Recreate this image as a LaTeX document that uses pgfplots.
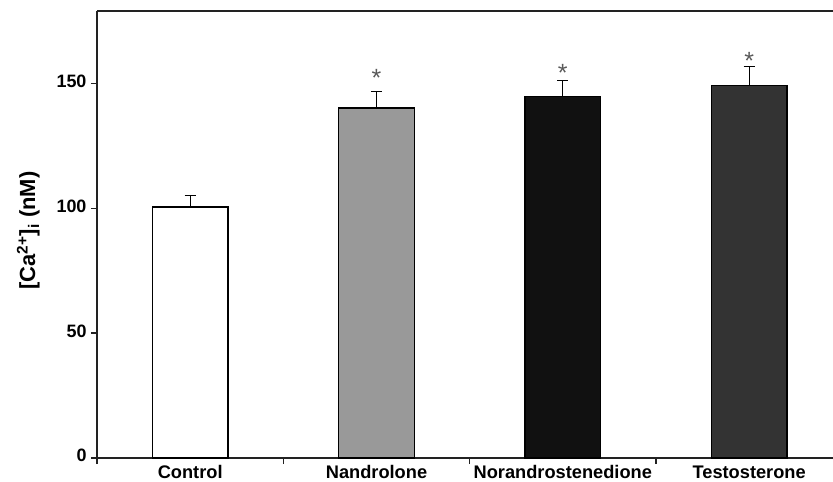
\documentclass[border=0pt]{standalone}
\usepackage{fontspec}
\setmainfont{Liberation Sans}
\usepackage{pgfplots}
\pgfplotsset{compat=1.18}
\definecolor{nandro}{HTML}{999999}
\definecolor{norandro}{HTML}{111111}
\definecolor{testo}{HTML}{333333}
\definecolor{axcol}{HTML}{222222}
\begin{document}
\begin{tikzpicture}
\begin{axis}[
  at={(0,0)}, anchor=south west,
  scale only axis, width=736bp, height=447bp,
  xmin=-0.5, xmax=3.45, ymin=0, ymax=179,
  axis lines=left,
  axis line style={-, line width=1.3bp, color=axcol},
  ytick={0,50,100,150},
  xtick={0,1,2,3},
  xticklabels={Control,Nandrolone,Norandrostenedione,Testosterone},
  minor xtick={-0.5,0.5,1.5,2.5},
  major x tick style={draw=none},
  tick align=outside,
  major tick length=6bp, minor tick length=6bp,
  tick style={line width=1.3bp, color=axcol},
  /pgf/number format/assume math mode=true,
  typeset ticklabels with strut,
  yticklabel style={font=\fontsize{18}{20}\selectfont\bfseries, xshift=-1bp},
  xticklabel style={font=\fontsize{18.3}{20}\selectfont\bfseries, yshift=3bp},
  ylabel={[Ca\textsuperscript{2+}]\textsubscript{i} (nM)},
  ylabel style={font=\fontsize{22}{24}\selectfont\bfseries, yshift=10bp, xshift=4bp},
  ybar, bar width=0.405, bar shift=0pt,
  every axis plot/.append style={draw=black, line width=1.3bp,
    error bars/y dir=plus, error bars/y explicit,
    error bars/error bar style={line width=1.3bp, black},
    error bars/error mark options={rotate=90, mark size=5.5bp, line width=1.3bp, black}},
  clip=false,
]
\addplot[fill=white] coordinates {(0,100.5) +- (0,4.7)};
\addplot[fill=nandro] coordinates {(1,140.2) +- (0,6.5)};
\addplot[fill=norandro] coordinates {(2,144.7) +- (0,6.6)};
\addplot[fill=testo] coordinates {(3,149.1) +- (0,7.8)};
\draw[line width=1.3bp, color=axcol] (rel axis cs:0,1) -- (rel axis cs:1,1);
\node[font=\fontsize{25}{25}\selectfont, text=black!65] at (axis cs:1,152.2) {*};
\node[font=\fontsize{25}{25}\selectfont, text=black!65] at (axis cs:2,154.2) {*};
\node[font=\fontsize{25}{25}\selectfont, text=black!65] at (axis cs:3,159.2) {*};
\end{axis}
\pgfresetboundingbox
\path (-97bp,-24bp) rectangle (736bp,458bp);
\end{tikzpicture}
\end{document}
